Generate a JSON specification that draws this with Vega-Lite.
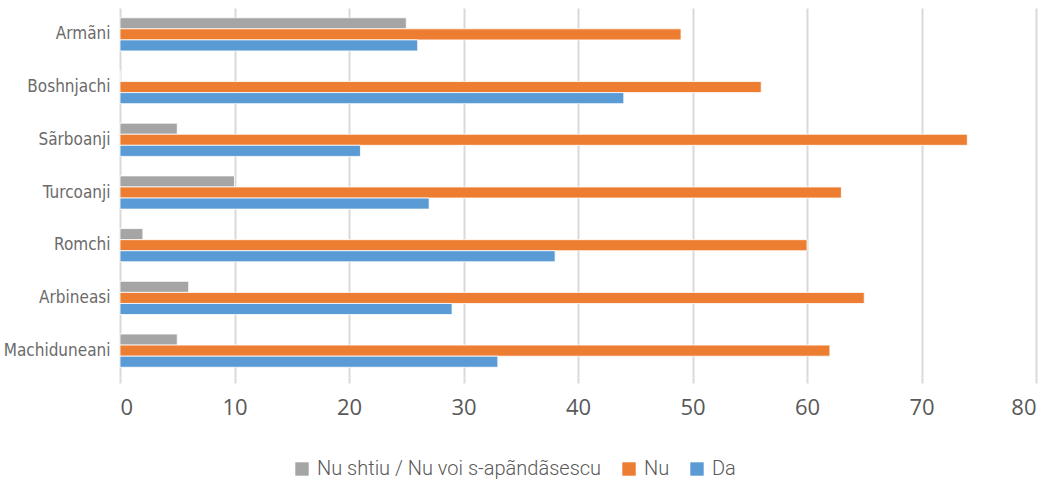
{
  "$schema": "https://vega.github.io/schema/vega-lite/v6.json",
  "autosize": "none",
  "width": 916,
  "height": 369,
  "padding": {"left": 120, "top": 8, "right": 15, "bottom": 102},
  "background": "white",
  "data": {
    "values": [
      {"group": "Armãni", "answer": "Nu shtiu / Nu voi s-apãndãsescu", "value": 25},
      {"group": "Armãni", "answer": "Nu", "value": 49},
      {"group": "Armãni", "answer": "Da", "value": 26},
      {"group": "Boshnjachi", "answer": "Nu shtiu / Nu voi s-apãndãsescu", "value": 0},
      {"group": "Boshnjachi", "answer": "Nu", "value": 56},
      {"group": "Boshnjachi", "answer": "Da", "value": 44},
      {"group": "Sãrboanji", "answer": "Nu shtiu / Nu voi s-apãndãsescu", "value": 5},
      {"group": "Sãrboanji", "answer": "Nu", "value": 74},
      {"group": "Sãrboanji", "answer": "Da", "value": 21},
      {"group": "Turcoanji", "answer": "Nu shtiu / Nu voi s-apãndãsescu", "value": 10},
      {"group": "Turcoanji", "answer": "Nu", "value": 63},
      {"group": "Turcoanji", "answer": "Da", "value": 27},
      {"group": "Romchi", "answer": "Nu shtiu / Nu voi s-apãndãsescu", "value": 2},
      {"group": "Romchi", "answer": "Nu", "value": 60},
      {"group": "Romchi", "answer": "Da", "value": 38},
      {"group": "Arbineasi", "answer": "Nu shtiu / Nu voi s-apãndãsescu", "value": 6},
      {"group": "Arbineasi", "answer": "Nu", "value": 65},
      {"group": "Arbineasi", "answer": "Da", "value": 29},
      {"group": "Machiduneani", "answer": "Nu shtiu / Nu voi s-apãndãsescu", "value": 5},
      {"group": "Machiduneani", "answer": "Nu", "value": 62},
      {"group": "Machiduneani", "answer": "Da", "value": 33}
    ]
  },
  "config": {
    "view": {"stroke": null},
    "font": "Roboto"
  },
  "mark": {"type": "bar", "stroke": "white", "strokeWidth": 0.8},
  "encoding": {
    "y": {
      "field": "group",
      "type": "nominal",
      "sort": ["Armãni", "Boshnjachi", "Sãrboanji", "Turcoanji", "Romchi", "Arbineasi", "Machiduneani"],
      "scale": {"paddingInner": 0.37, "paddingOuter": 0.185},
      "axis": {
        "title": null,
        "domain": false,
        "ticks": false,
        "labelFont": "'DejaVu Sans Condensed', Roboto",
        "labelFontSize": 17,
        "labelColor": "#6b6b6b",
        "labelPadding": 10,
        "labelLimit": 200
      }
    },
    "yOffset": {
      "field": "answer",
      "type": "nominal",
      "sort": ["Nu shtiu / Nu voi s-apãndãsescu", "Nu", "Da"]
    },
    "x": {
      "field": "value",
      "type": "quantitative",
      "scale": {"domain": [0, 80], "nice": false},
      "axis": {
        "title": null,
        "values": [0, 10, 20, 30, 40, 50, 60, 70, 80],
        "domain": false,
        "grid": true,
        "gridColor": "#d9d9d9",
        "gridWidth": 2,
        "ticks": true,
        "tickColor": "#d9d9d9",
        "tickWidth": 2,
        "tickSize": 6,
        "labelFont": "Open Sans",
        "labelFontSize": 22,
        "labelColor": "#595959",
        "labelPadding": 14
      }
    },
    "color": {
      "field": "answer",
      "type": "nominal",
      "sort": ["Nu shtiu / Nu voi s-apãndãsescu", "Nu", "Da"],
      "scale": {
        "domain": ["Nu shtiu / Nu voi s-apãndãsescu", "Nu", "Da"],
        "range": ["#A5A5A5", "#ED7D31", "#5B9BD5"]
      },
      "legend": {
        "title": null,
        "orient": "none",
        "direction": "horizontal",
        "legendX": 172,
        "legendY": 451,
        "symbolType": "square",
        "symbolSize": 180,
        "symbolStrokeWidth": 0,
        "labelFont": "Roboto",
        "labelFontWeight": 300,
        "labelFontSize": 20,
        "labelColor": "#595959",
        "labelOffset": 5,
        "labelLimit": 400,
        "columnPadding": 17
      }
    }
  }
}
